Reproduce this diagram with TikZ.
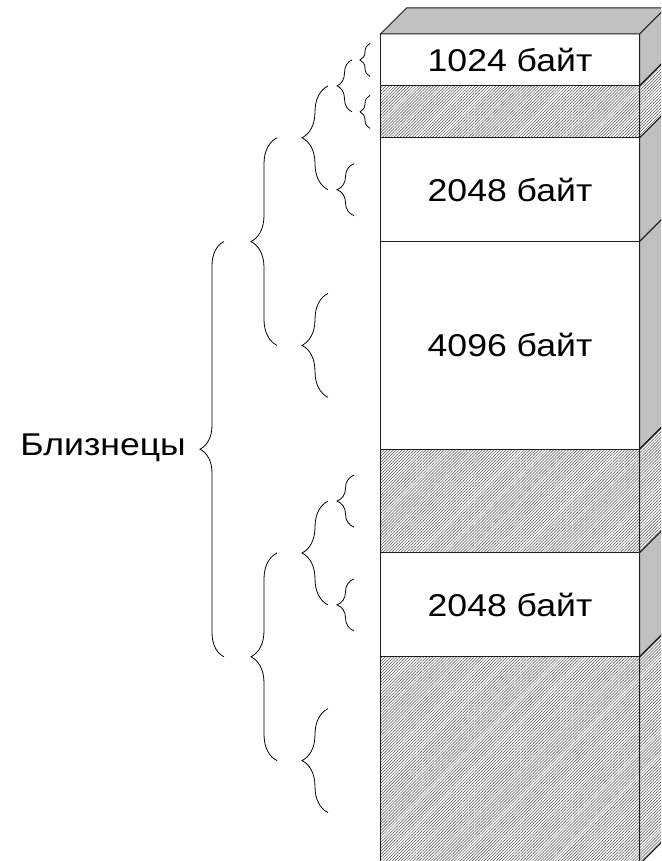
\documentclass[tikz,border=0pt]{standalone}
\usepackage{fontspec}
\setmainfont{Liberation Sans}
\newfontfamily\widefont[FakeStretch=1.13]{Liberation Sans}
\usepackage{xcolor}
\definecolor{sidecol}{RGB}{192, 192, 192}
\definecolor{hatchcol}{RGB}{80, 80, 80}
\definecolor{edgecol}{RGB}{30, 30, 30}
\usetikzlibrary{positioning, patterns.meta, decorations.pathreplacing}

\begin{document}
\begin{tikzpicture}[x=1pt, y=1pt,
    blk/.style={draw=edgecol, line width=1pt, minimum width=259pt,
                inner sep=0pt, outer sep=0pt, font=\widefont\fontsize{31.5}{32}\selectfont},
    usedblk/.style={blk, fill=white},
    freeblk/.style={blk, pattern={Lines[angle=45, distance=2.1pt, line width=0.5pt]},
                    pattern color=hatchcol},
    usedside/.style={draw=edgecol, line width=1pt, fill=sidecol},
    freeside/.style={draw=edgecol, line width=1pt,
                     pattern={Lines[angle=45, distance=2.1pt, line width=0.5pt]},
                     pattern color=hatchcol},
    curly/.style={decorate, decoration={brace, amplitude=#1}, line width=0.8pt}]
  \useasboundingbox (0,0) rectangle (661,861);
  \clip (0,0) rectangle (661,861);

  % the column of blocks, 1024 bytes = 51.9pt
  \node[usedblk, minimum height=51.9pt, anchor=north] (b1) at (510,827) {1024 байт};
  \node[freeblk, minimum height=51.9pt, below=0pt of b1] (b2) {};
  \node[usedblk, minimum height=103.8pt, below=0pt of b2] (b3) {2048 байт};
  \node[usedblk, minimum height=207.6pt, below=0pt of b3] (b4) {4096 байт};
  \node[freeblk, minimum height=103.8pt, below=0pt of b4] (b5) {};
  \node[usedblk, minimum height=103.8pt, below=0pt of b5] (b6) {2048 байт};
  \node[freeblk, minimum height=207.6pt, below=0pt of b6] (b7) {};

  % right side and top of the column
  \foreach \b/\face in {b1/usedside, b2/freeside, b3/usedside, b4/usedside,
                        b5/freeside, b6/usedside, b7/freeside}
    \draw[\face] (\b.north east) -- ([shift={(26,26)}]\b.north east)
      -- ([shift={(26,26)}]\b.south east) -- (\b.south east) -- cycle;
  \draw[usedside] (b1.north west) -- ([shift={(26,26)}]b1.north west)
    -- ([shift={(26,26)}]b1.north east) -- (b1.north east) -- cycle;

  % buddy braces, leaves first
  \draw[curly=10pt] (370,784.5) -- (370,817.5);
  \draw[curly=10pt] (370,732.6) -- (370,765.6);
  \draw[curly=17pt] (354,645.3) -- (354,697.3);
  \draw[curly=26pt] (328,463.6) -- (328,567.6);
  \draw[curly=17pt] (354,333.9) -- (354,385.9);
  \draw[curly=17pt] (354,230.1) -- (354,282.1);
  \draw[curly=26pt] (328,48.4) -- (328,152.4);

  % pairs of buddies
  \draw[curly=15pt] (352,749.2) -- (352,801.1);
  \draw[curly=26pt] (328,671.3) -- (328,775.1);
  \draw[curly=26pt] (277,515.6) -- (277,723.2);
  \draw[curly=26pt] (328,256.1) -- (328,359.9);
  \draw[curly=26pt] (277,100.4) -- (277,308);
  \draw[curly=24pt] (224,204.2) -- (224,619.4) coordinate[pos=0.5, xshift=-24pt] (root);

  \node[anchor=base east, inner sep=0pt, font=\widefont\fontsize{31.5}{32}\selectfont]
    (twins) at ([xshift=-14pt, yshift=-6pt]root) {Близнецы};
\end{tikzpicture}
\end{document}
